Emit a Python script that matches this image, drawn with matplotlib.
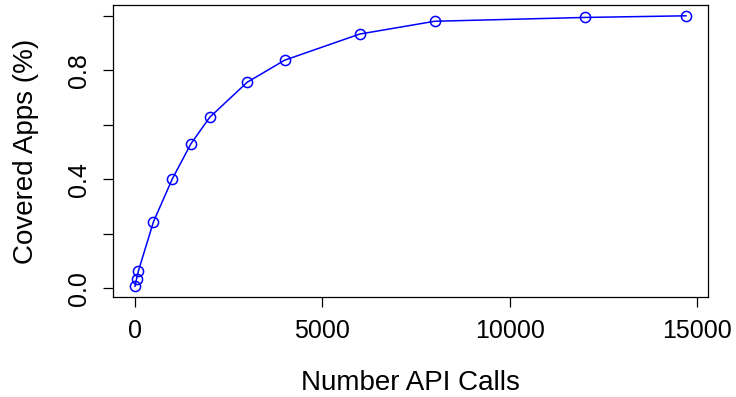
import matplotlib
matplotlib.use("Agg")
import matplotlib.pyplot as plt

# API calls vs fraction of covered apps
api_calls = [10, 50, 100, 500, 1000, 1500, 2000, 3000, 4000, 6000, 8000, 12000, 14700]
covered = [0.007, 0.033, 0.063, 0.243, 0.40, 0.53, 0.627, 0.756, 0.837, 0.933, 0.98, 0.994, 1.0]
x_ticks = [0, 5000, 10000, 15000]
y_ticks = [0.0, 0.2, 0.4, 0.6, 0.8, 1.0]
y_labels = ['0.0', '', '0.4', '', '0.8', '']  # R drops the overlapping ones

plt.rcParams['font.family'] = ['Liberation Sans', 'DejaVu Sans']

fig = plt.figure(figsize=(7.36, 3.97), dpi=100)
ax = fig.add_axes([113/736, 100/397, 595/736, 292/397])

ax.plot(api_calls, covered, color='blue', lw=1.1, marker='o', ms=7.3,
        mfc='none', mec='blue', mew=1.1)

# R-style 4% padding
xr = max(api_calls) - min(api_calls)
yr = max(covered) - min(covered)
ax.set_xlim(min(api_calls) - 0.04 * xr, max(api_calls) + 0.04 * xr)
ax.set_ylim(min(covered) - 0.04 * yr, max(covered) + 0.04 * yr)

ax.set_xticks(x_ticks)
ax.set_xticklabels([str(t) for t in x_ticks])
ax.set_yticks(y_ticks)
ax.set_yticklabels(y_labels, rotation=90, va='center')
ax.tick_params(labelsize=18, length=7, width=0.9, pad=9)

for s in ax.spines.values():
    s.set_linewidth(0.9)

ax.set_xlabel('Number API Calls', fontsize=20, labelpad=19)
ax.set_ylabel('Covered Apps (%)', fontsize=20, labelpad=20)

fig.savefig('out.png', dpi=100)
